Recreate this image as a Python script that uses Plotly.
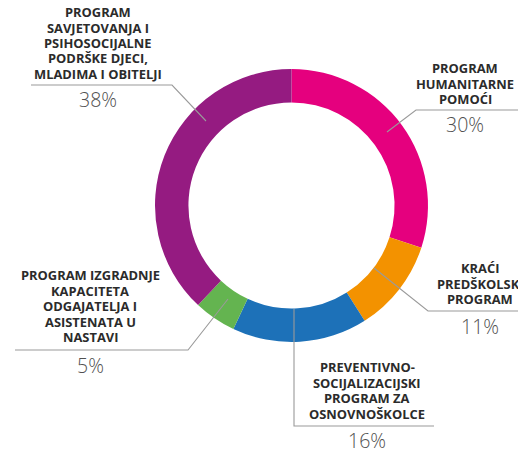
import plotly.graph_objects as go

W, H = 518, 451

categories = [
    "PROGRAM HUMANITARNE POMOĆI",
    "KRAĆI PREDŠKOLSKI PROGRAM",
    "PREVENTIVNO-SOCIJALIZACIJSKI PROGRAM ZA OSNOVNOŠKOLCE",
    "PROGRAM IZGRADNJE KAPACITETA ODGAJATELJA I ASISTENATA U NASTAVI",
    "PROGRAM SAVJETOVANJA I PSIHOSOCIJALNE PODRŠKE DJECI, MLADIMA I OBITELJI",
]
label_lines = [
    ["PROGRAM", "HUMANITARNE", "POMOĆI"],
    ["KRAĆI", "PREDŠKOLSKI", "PROGRAM"],
    ["PREVENTIVNO-", "SOCIJALIZACIJSKI", "PROGRAM ZA", "OSNOVNOŠKOLCE"],
    ["PROGRAM IZGRADNJE", "KAPACITETA", "ODGAJATELJA I", "ASISTENATA U", "NASTAVI"],
    ["PROGRAM", "SAVJETOVANJA I", "PSIHOSOCIJALNE", "PODRŠKE DJECI,", "MLADIMA I OBITELJI"],
]
values = [30, 11, 16, 5, 38]
colors = ["#e5007e", "#f39200", "#1d71b8", "#64b450", "#951b81"]

# layout helpers (pixel -> paper)
def px(x):
    return x / W

def py(y):
    return 1 - y / H

cx, cy, r = 291.5, 205.5, 136.5

fig = go.Figure(go.Pie(
    labels=categories,
    values=values,
    sort=False,
    direction="clockwise",
    rotation=0,
    hole=0.755,
    marker=dict(colors=colors, line=dict(width=0)),
    textinfo="none",
    hoverinfo="label+percent",
    domain=dict(x=[px(cx - r), px(cx + r)], y=[py(cy + r), py(cy - r)]),
    showlegend=False,
))

# label placement: (center x, first line y, percent y, leader line path)
placements = [
    (465, 68, 125, [(387, 132), (416, 110), (520, 110)]),
    (480, 268, 326, [(374, 268), (428, 311), (520, 311)]),
    (367, 367, 440, [(294, 309), (294, 426), (434, 426)]),
    (90, 275, 365, [(228, 299), (188, 350), (15, 350)]),
    (98, 12, 100, [(206, 121), (172, 85), (31, 85)]),
]
line_h = 15.5

annotations = []
shapes = []
for lines, val, (x, y0, yp, path) in zip(label_lines, values, placements):
    for i, t in enumerate(lines):
        annotations.append(dict(
            x=px(x), y=py(y0 + i * line_h), xref="paper", yref="paper",
            text=t, showarrow=False, xanchor="center", yanchor="middle",
            font=dict(family="Open Sans", size=12.9, color="#2b2b2b", weight="bold"),
        ))
    annotations.append(dict(
        x=px(x), y=py(yp), xref="paper", yref="paper",
        text=f"{val}%", showarrow=False, xanchor="center", yanchor="middle",
        font=dict(family="Open Sans", size=19.5, color="#505050", weight=300),
    ))
    d = "M " + " L ".join(f"{px(a)} {py(b)}" for a, b in path)
    shapes.append(dict(type="path", path=d, xref="paper", yref="paper",
                       line=dict(color="#9a9a9a", width=1.1)))

fig.update_layout(
    width=W, height=H,
    margin=dict(l=0, r=0, t=0, b=0),
    paper_bgcolor="white",
    plot_bgcolor="white",
    annotations=annotations,
    shapes=shapes,
)

fig.write_html(
    "out.html",
    config={"displayModeBar": False},
    post_script="document.body.style.margin='0';document.body.style.overflow='hidden';",
)
